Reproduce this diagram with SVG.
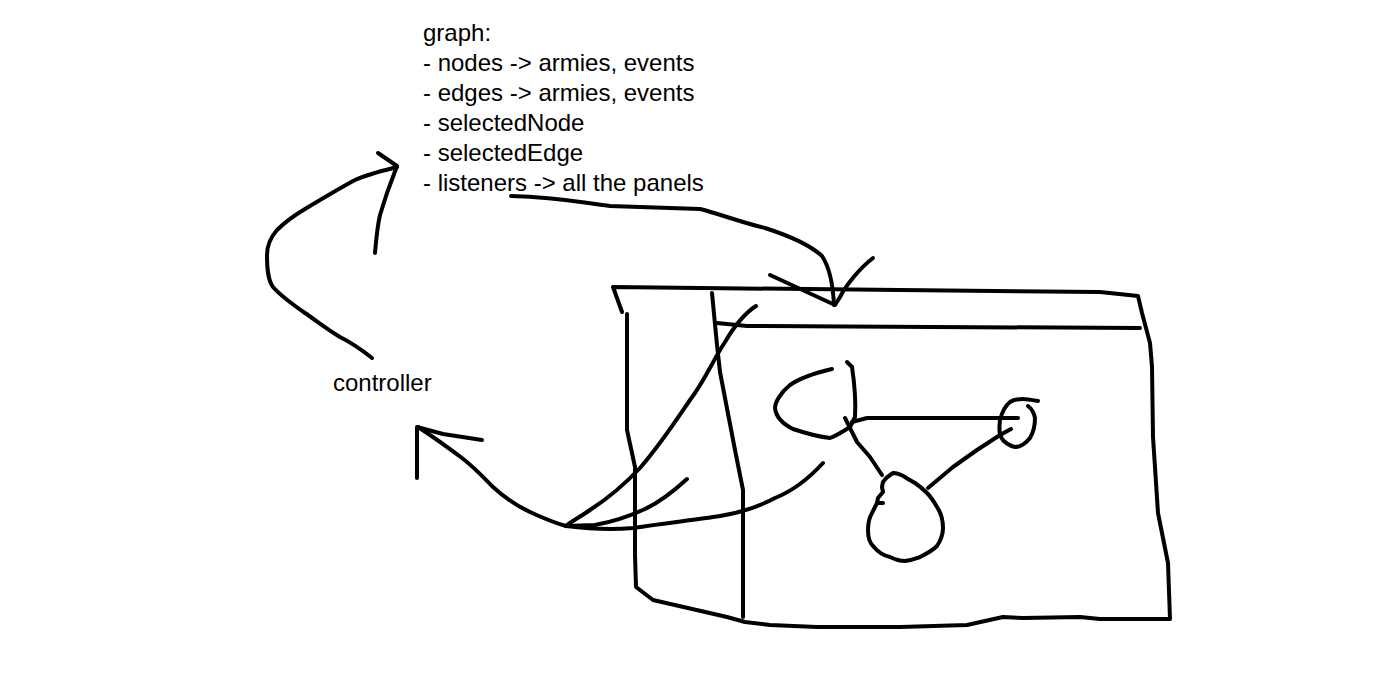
<svg xmlns="http://www.w3.org/2000/svg" width="1386" height="689" viewBox="0 0 1386 689">
<style>
.s{fill:none;stroke:#000;stroke-width:4;stroke-linecap:round;stroke-linejoin:round}
.t{font-family:"Liberation Sans",Arial,sans-serif;font-size:24px;fill:#000}
</style>
<rect width="1386" height="689" fill="#fff"/>
<g id="graph-label">
<text class="t" x="423" y="41">graph:</text>
<text class="t" x="423" y="71">- nodes -&gt; armies, events</text>
<text class="t" x="423" y="101">- edges -&gt; armies, events</text>
<text class="t" x="423" y="131">- selectedNode</text>
<text class="t" x="423" y="161">- selectedEdge</text>
<text class="t" x="423" y="191">- listeners -&gt; all the panels</text>
</g>
<g id="controller">
<text class="t" x="333" y="391">controller</text>
</g>
<g id="panel">
<path class="s" d="M622,312 L617,298 L613,287 L700,288 L900,290 L1100,292 L1138,296 L1142,313 L1150,343 L1152,367 L1153,437 L1158,513 L1168,563 L1170,619 L1100,619 L1080,617 L1023,618 L1003,617 L967,625 L900,627 L817,627 L770,625 L745,622 L727,617 L653,600 L636,587 L635,555 L635,467 L627,430 L627,314"/>
<path class="s" d="M712,293 L717,345 L720,372 L735,450 L743,490 L743,617"/>
<path class="s" d="M717,323 L747,326 L1140,328"/>
</g>
<g id="node-a">
<path class="s" d="M832,369 C815,373 800,378 790,385 C780,393 775,403 775,408 C776,418 785,425 793,429 C805,433 820,437 830,438 C838,435 845,430 850,427"/>
<path class="s" d="M847,362 L852,367 C854,380 856,400 855,417 L850,427"/>
</g>
<g id="node-b">
<path class="s" d="M1038,401 C1032,400 1026,399 1023,399 C1018,399 1013,400 1010,402 C1005,406 1002,412 1000,420 C999,428 999,433 1001,437 C1003,442 1010,446 1015,447 C1021,447 1026,443 1030,438 C1033,433 1035,425 1035,418 C1034,413 1032,409 1028,406"/>
</g>
<g id="node-c">
<path class="s" d="M893,473 C888,476 885,479 883,482 L882,487 L883,492 L878,498 L877,503 L883,503 L877,503 L872,513 C869,518 868,523 868,530 C868,538 870,543 873,546 C878,552 885,556 890,557 C896,560 900,561 905,561 C912,560 917,558 920,557 C928,553 934,549 937,546 C941,540 943,535 943,528 C943,520 941,513 937,507 C933,500 930,496 927,493 C922,488 918,485 915,483 C910,480 906,478 905,477 C900,474 896,473 893,473"/>
</g>
<g id="connectors">
<path class="s" d="M845,418 L857,442 L870,457 L882,475"/>
<path class="s" d="M852,422 L867,418 L1018,418"/>
<path class="s" d="M1011,429 L1000,435 L977,450 L953,467 L928,488"/>
<path class="s" d="M511,196 C560,197 590,204 610,206 L700,209 C720,214 740,222 765,228 C790,236 810,245 822,256 C830,268 833,285 834,305"/>
<path class="s" d="M770,275 L835,305 L840,297 C846,285 860,268 873,258"/>
<path class="s" d="M756,306 C745,313 735,325 725,342 C712,362 705,380 690,400 C675,422 660,445 640,468 C625,484 610,497 590,510 C580,517 572,521 566,526"/>
<path class="s" d="M687,479 C675,490 660,502 645,509 C630,516 612,522 595,525 L566,526"/>
<path class="s" d="M823,463 C812,475 795,490 775,498 C760,506 745,512 720,516 C695,520 665,523 633,528 C610,530 590,529 566,526"/>
<path class="s" d="M566,526 C555,523 545,519 530,512 C515,505 505,498 493,487 C484,478 475,468 462,458 C450,449 438,440 418,427"/>
<path class="s" d="M417,478 L417,427 L443,434 L482,440"/>
<path class="s" d="M372,358 C362,350 352,343 340,337 C328,330 318,322 305,313 C292,304 280,295 273,287 C268,280 267,270 267,255 C267,245 270,238 277,230 C285,222 295,215 305,209 C320,200 340,188 355,180 C368,174 385,170 397,167"/>
<path class="s" d="M378,153 L397,166 L387,193 L380,215 C377,228 376,242 375,253"/>
</g>
</svg>
